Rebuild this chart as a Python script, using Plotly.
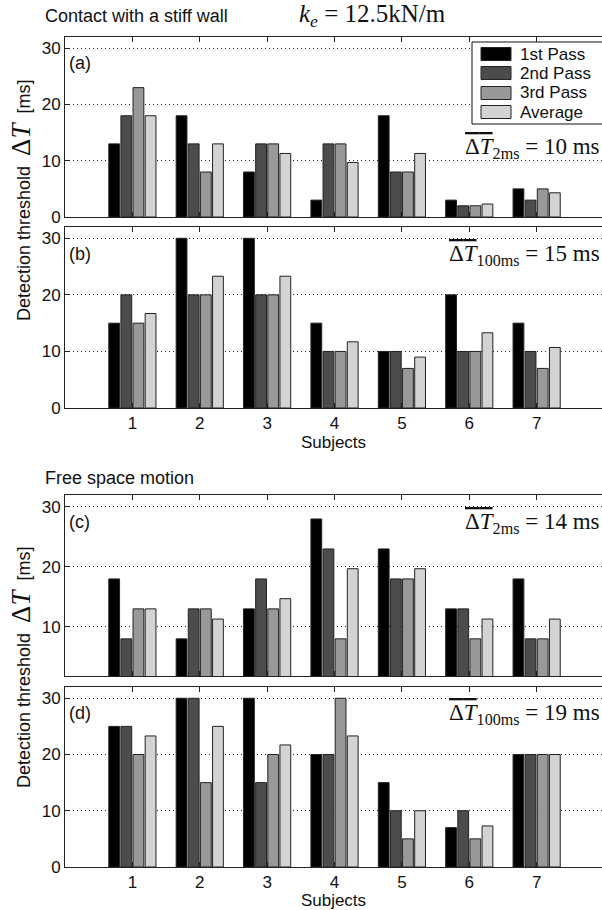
import plotly.graph_objects as go

subjects = [1, 2, 3, 4, 5, 6, 7]
series_names = ["1st Pass", "2nd Pass", "3rd Pass", "Average"]

# (a) Contact with a stiff wall, 2 ms
a_first = [13, 18, 8, 3, 18, 3, 5]
a_second = [18, 13, 13, 13, 8, 2, 3]
a_third = [23, 8, 13, 13, 8, 2, 5]
a_avg = [18, 13, 11.3, 9.7, 11.3, 2.3, 4.3]

# (b) Contact with a stiff wall, 100 ms
b_first = [15, 30, 30, 15, 10, 20, 15]
b_second = [20, 20, 20, 10, 10, 10, 10]
b_third = [15, 20, 20, 10, 7, 10, 7]
b_avg = [16.7, 23.3, 23.3, 11.7, 9, 13.3, 10.7]

# (c) Free space motion, 2 ms
c_first = [18, 8, 13, 28, 23, 13, 18]
c_second = [8, 13, 18, 23, 18, 13, 8]
c_third = [13, 13, 13, 8, 18, 8, 8]
c_avg = [13, 11.3, 14.7, 19.7, 19.7, 11.3, 11.3]

# (d) Free space motion, 100 ms
d_first = [25, 30, 30, 20, 15, 7, 20]
d_second = [25, 30, 15, 20, 10, 10, 20]
d_third = [20, 15, 20, 30, 5, 5, 20]
d_avg = [23.3, 25, 21.7, 23.3, 10, 7.3, 20]

panel_labels = ["(a)", "(b)", "(c)", "(d)"]
mean_labels = ["2ms", "100ms", "2ms", "100ms"]
mean_values = [10, 15, 14, 19]
y_ticks = [0, 10, 20, 30]

colors = ["#000000", "#4c4c4c", "#999999", "#d3d3d3"]
SANS = "Liberation Sans"
SERIF = "Liberation Serif"
FS = 17

panels = [
    [a_first, a_second, a_third, a_avg],
    [b_first, b_second, b_third, b_avg],
    [c_first, c_second, c_third, c_avg],
    [d_first, d_second, d_third, d_avg],
]

H = 910.0
W = 602.0
# pixel extents (top, bottom) of each panel
pix = [(37, 217), (227, 408), (495, 676), (687, 867)]
yranges = [[0, 32], [0, 32], [1.8, 32], [0, 32]]
xdom = [65 / W, 1.0]

fig = go.Figure()
layout = {}
for i, series in enumerate(panels):
    n = i + 1
    xa = "x" if n == 1 else f"x{n}"
    ya = "y" if n == 1 else f"y{n}"
    for j, vals in enumerate(series):
        fig.add_trace(go.Bar(
            x=subjects, y=vals, name=series_names[j],
            marker=dict(color=colors[j], line=dict(color="#222222", width=1)),
            xaxis=xa, yaxis=ya, showlegend=False,
        ))
    top, bot = pix[i]
    show_xlabels = i in (1, 3)
    xdict = dict(
        domain=xdom, anchor=ya, range=[0, 7.97],
        tickmode="array", tickvals=subjects,
        showticklabels=show_xlabels,
        ticks="inside", ticklen=5, tickcolor="#222", showline=True, linecolor="#222",
        linewidth=1, mirror="ticks", showgrid=False, zeroline=False,
        tickfont=dict(family=SANS, size=FS, color="#111"),
        automargin=False,
    )
    if show_xlabels:
        xdict["title"] = dict(text="Subjects", standoff=1,
                              font=dict(family=SANS, size=FS, color="#111"))
    layout["xaxis" if n == 1 else f"xaxis{n}"] = xdict
    layout["yaxis" if n == 1 else f"yaxis{n}"] = dict(
        domain=[1 - bot / H, 1 - top / H], anchor=xa, range=yranges[i],
        tickmode="array", tickvals=y_ticks,
        ticks="inside", ticklen=5, tickcolor="#222", showline=True, linecolor="#222",
        linewidth=1, mirror=False, showgrid=True, gridcolor="#222", griddash="1px,3px",
        gridwidth=1, zeroline=False,
        tickfont=dict(family=SANS, size=FS, color="#111"),
        automargin=False,
    )

fig.update_layout(**layout)

annotations = []
ann_y = [12.3, 27.1, 27.3, 27.2]
for i in range(4):
    n = i + 1
    xr = "x" if n == 1 else f"x{n}"
    yr = "y" if n == 1 else f"y{n}"
    annotations.append(dict(
        x=0.03, y=27.3 if i != 2 else 27.5, xref=xr, yref=yr, text=panel_labels[i],
        showarrow=False, xanchor="left", yanchor="middle",
        font=dict(family=SANS, size=18, color="#111")))
    annotations.append(dict(
        x=7.97, y=ann_y[i], xref=xr, yref=yr,
        text=('<span style="text-decoration:overline">Δ<i>T</i></span>'
              f'<sub>{mean_labels[i]}</sub> = {mean_values[i]} ms'),
        showarrow=False, xanchor="right", yanchor="middle",
        font=dict(family=SERIF, size=23, color="#111")))

annotations += [
    dict(x=43 / W, y=1 - 16 / H, xref="paper", yref="paper", text="Contact with a stiff wall",
         showarrow=False, xanchor="left", yanchor="middle",
         font=dict(family=SANS, size=18, color="#111")),
    dict(x=297 / W, y=1 - 15 / H, xref="paper", yref="paper",
         text="<i>k<sub>e</sub></i> = 12.5kN/m",
         showarrow=False, xanchor="left", yanchor="middle",
         font=dict(family=SERIF, size=25, color="#111")),
    dict(x=43 / W, y=1 - 478 / H, xref="paper", yref="paper", text="Free space motion",
         showarrow=False, xanchor="left", yanchor="middle",
         font=dict(family=SANS, size=18, color="#111")),
]
ytitle = ('Detection threshold  <span style="font-family:Liberation Serif;font-size:27px">'
          'Δ<i>T</i></span>  [ms]')
for yc in (200, 667):
    annotations.append(dict(
        x=21 / W, y=1 - yc / H, xref="paper", yref="paper", text=ytitle,
        showarrow=False, textangle=-90, xanchor="center", yanchor="middle",
        font=dict(family=SANS, size=18, color="#111")))

# legend box (drawn as a layout decoration) in panel (a)
shapes = [dict(type="rect", xref="paper", yref="paper",
               x0=472 / W, x1=603 / W, y0=1 - 124 / H, y1=1 - 42 / H,
               line=dict(color="#111", width=1), fillcolor="white", layer="above")]
row_y = [54, 73, 93, 112]
for j, name in enumerate(series_names):
    yc = row_y[j]
    shapes.append(dict(type="rect", xref="paper", yref="paper",
                       x0=481 / W, x1=511 / W, y0=1 - (yc + 6.5) / H, y1=1 - (yc - 6.5) / H,
                       line=dict(color="#222", width=1), fillcolor=colors[j], layer="above"))
    annotations.append(dict(x=518 / W, y=1 - yc / H, xref="paper", yref="paper", text=name,
                            showarrow=False, xanchor="left", yanchor="middle",
                            font=dict(family=SANS, size=17, color="#111")))

fig.update_layout(
    width=602, height=910,
    margin=dict(l=0, r=0, t=0, b=0),
    paper_bgcolor="white", plot_bgcolor="white",
    barmode="group", bargap=0.28, bargroupgap=0.11,
    annotations=annotations, shapes=shapes,
    showlegend=False,
)

fig.write_html("out.html", config={"displayModeBar": False},
               post_script="document.body.style.margin='0px';")
